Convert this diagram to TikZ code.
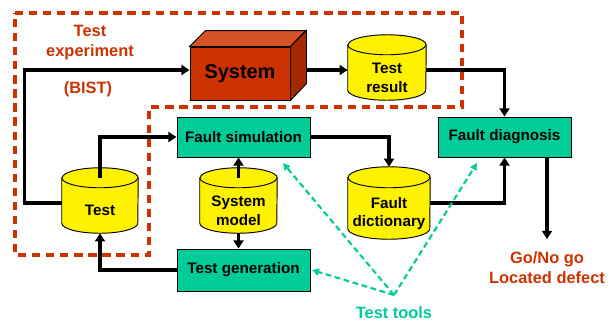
\documentclass[tikz,border=0pt]{standalone}
\usepackage{fontspec}
\setmainfont{Liberation Sans}
\usetikzlibrary{arrows.meta,calc,backgrounds}

\definecolor{rust}{HTML}{CC3300}
\definecolor{jade}{HTML}{00CC99}

% yellow drum round a body node: #1 node, #2 x radius, #3 y radius
\newcommand{\drum}[3]{%
	\draw[line width=0.8pt,fill=yellow]
		([yshift=#3]#1.north west) -- ([yshift=#3]#1.south west)
		arc[start angle=180,end angle=360,x radius=#2,y radius=#3]
		-- ([yshift=#3]#1.north east)
		arc[start angle=0,end angle=180,x radius=#2,y radius=#3] -- cycle;
	\draw[line width=0.8pt] ([yshift=#3]#1.north west)
		arc[start angle=180,end angle=360,x radius=#2,y radius=#3];}

\begin{document}
\begin{tikzpicture}[x=0.03cm,y=-0.03cm,
		txt/.style={font=\bfseries\fontsize{13}{16}\selectfont,align=center},
		box/.style={txt,draw,line width=0.8pt,fill=jade,minimum width=3.99cm,minimum height=1.2cm},
		can/.style={txt,inner sep=0pt,minimum height=1.35cm},
		flow/.style={line width=2.7pt,-{Triangle[length=7pt,width=8.5pt]}},
		tool/.style={jade,line width=1.8pt,dash pattern=on 5pt off 3pt,-{Triangle[length=6pt,width=6pt]}},
		note/.style={font=\bfseries\fontsize{14}{17}\selectfont,align=center}]
	\useasboundingbox (0,0) rectangle (616,322);

	% test experiment area
	\draw[rust,line width=2.8pt,dash pattern=on 7pt off 5pt]
		(15,13) -- (462,13) -- (462,107) -- (149,107) -- (149,255) -- (15,255) -- cycle;
	\node[note,rust] (exp) at (90,43) {Test\\experiment};
	\node[note,rust] (bist) at (88,89) {(BIST)};

	\node[txt,font=\bfseries\fontsize{17}{20}\selectfont,draw,line width=0.8pt,fill=rust,minimum width=3cm,minimum height=1.59cm] (sys) at (240,73.5) {System};
	\node[can,minimum width=2.34cm] (res) at (387,77.5) {Test\\result};
	\node[can,minimum width=2.28cm] (test) at (100,210.5) {Test};
	\node[can,minimum width=2.31cm] (model) at (238.5,210.5) {System\\model};
	\node[can,minimum width=2.46cm,minimum height=1.53cm] (dict) at (389,213.5) {Fault\\dictionary};
	\begin{pgfonlayer}{background}
		\drum{res}{1.17cm}{0.3cm}
		\drum{test}{1.14cm}{0.3cm}
		\drum{model}{1.155cm}{0.3cm}
		\drum{dict}{1.23cm}{0.315cm}
	\end{pgfonlayer}

	\node[box] (sim) at (243.5,137) {Fault simulation};
	\node[box] (diag) at (504.5,137) {Fault diagnosis};
	\node[box,minimum height=1.26cm] (gen) at (243.5,270) {Test generation};

	% data flow
	\coordinate (sysout) at ($(sys.east)+(0,-3.5)$);
	\draw[flow] ($(test.west)+(0,-7.5)$) -- ++(-37,0) |- ($(sys.west)+(0,-3.5)$);
	\draw[flow] (sysout) -- (sysout -| res.west);
	\draw[flow] (sysout -| res.east) -| (diag.north);
	\draw[flow] ([yshift=0.3cm]test.north) |- (sim.west);
	\draw[flow] (sim.east) -| ([yshift=0.63cm]dict.north);
	\draw[flow] ($(dict.east)+(0,-10.5)$) -| (diag.south);
	\draw[flow] ([yshift=0.3cm]model.north) -- (model.north |- sim.south);
	\draw[flow] (model.south) -- (model.south |- gen.north);
	\draw[flow] (gen.west) -| (test.south);
	\coordinate (out) at (547,239);
	\draw[flow] (diag.south -| out) -- (out);
	\node[note,rust] (result) at (547,268) {Go/No go\\Located defect};

	% box faces
	\draw[line width=0.8pt,fill=rust!85!white] (sys.north west) -- ++(16,-16) -- ++(100,0) -- (sys.north east) -- cycle;
	\draw[line width=0.8pt,fill=rust!80!black] (sys.north east) -- ++(16,-16) -- ++(0,53) -- (sys.south east) -- cycle;

	% tools
	\node[note,jade] (tools) at (394,313) {Test tools};
	\coordinate (tt) at (394,295);
	\coordinate (t1) at (283,163);
	\coordinate (t2) at (312,270);
	\coordinate (t3) at (477,163);
	\draw[tool] (tt) -- (t1);
	\draw[tool] (tt) -- (t2);
	\draw[tool] (tt) -- (t3);
\end{tikzpicture}
\end{document}
